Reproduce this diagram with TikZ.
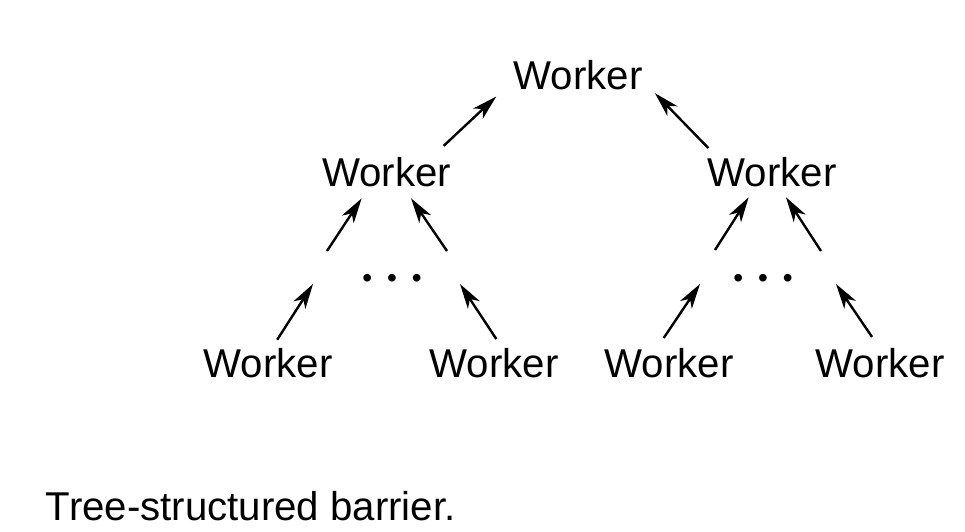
\documentclass[tikz,border=0pt]{standalone}
\usepackage{fontspec}
\setmainfont{Liberation Sans}
\usetikzlibrary{arrows.meta}

\begin{document}
\begin{tikzpicture}[x=0.5pt, y=-0.5pt,
    every node/.style={font=\fontsize{20.1}{24}\selectfont, inner sep=0pt, outer sep=0pt, anchor=base},
    dots/.style={font=\fontsize{14}{16}\selectfont},
    link/.style={-{Stealth[length=12.5pt, width=7pt, inset=3.5pt]}, line width=1.2pt}]
    \useasboundingbox (0,0) rectangle (965,531);

    % Workers
    \node (top) at (578,89) {Worker};
    \node (ml) at (386.5,186) {Worker};
    \node (mr) at (772,186) {Worker};
    \node (b1) at (268,377) {Worker};
    \node (b2) at (494,377) {Worker};
    \node (b3) at (669,377) {Worker};
    \node (b4) at (880,377) {Worker};

    % Elided workers
    \node[dots] (dl) at (392,287) {•\hspace{7.5pt}•\hspace{7.5pt}•};
    \node[dots] (dr) at (763,287) {•\hspace{7.5pt}•\hspace{7.5pt}•};

    % Free ends around the dots
    \coordinate (cl1) at (327,251);
    \coordinate (cl2) at (447,251);
    \coordinate (cr1) at (715,250);
    \coordinate (cr2) at (821,251);
    \coordinate (dl1) at (313,284);
    \coordinate (dl2) at (460,284);
    \coordinate (dr1) at (700,284);
    \coordinate (dr2) at (836,284);

    % Arrows up the tree
    \draw[link, shorten <=8.1pt, shorten >=11.9pt] (ml.18) -- (top.185);
    \draw[link, shorten <=6.2pt, shorten >=9pt] (mr.165) -- (top.355);
    \draw[link, shorten >=7.2pt] (cl1) -- (ml.221);
    \draw[link, shorten >=7.2pt] (cl2) -- (ml.318);
    \draw[link, shorten >=6.5pt] (cr1) -- (mr.222);
    \draw[link, shorten >=6.5pt] (cr2) -- (mr.295);
    \draw[link, shorten <=4.8pt] (b1.75) -- (dl1);
    \draw[link, shorten <=5.3pt] (b2.61) -- (dl2);
    \draw[link, shorten <=6pt] (b3.129) -- (dr1);
    \draw[link, shorten <=6.6pt] (b4.92) -- (dr2);

    % Caption
    \node[anchor=base west] (caption) at (46,520) {Tree-structured barrier.};
\end{tikzpicture}
\end{document}
